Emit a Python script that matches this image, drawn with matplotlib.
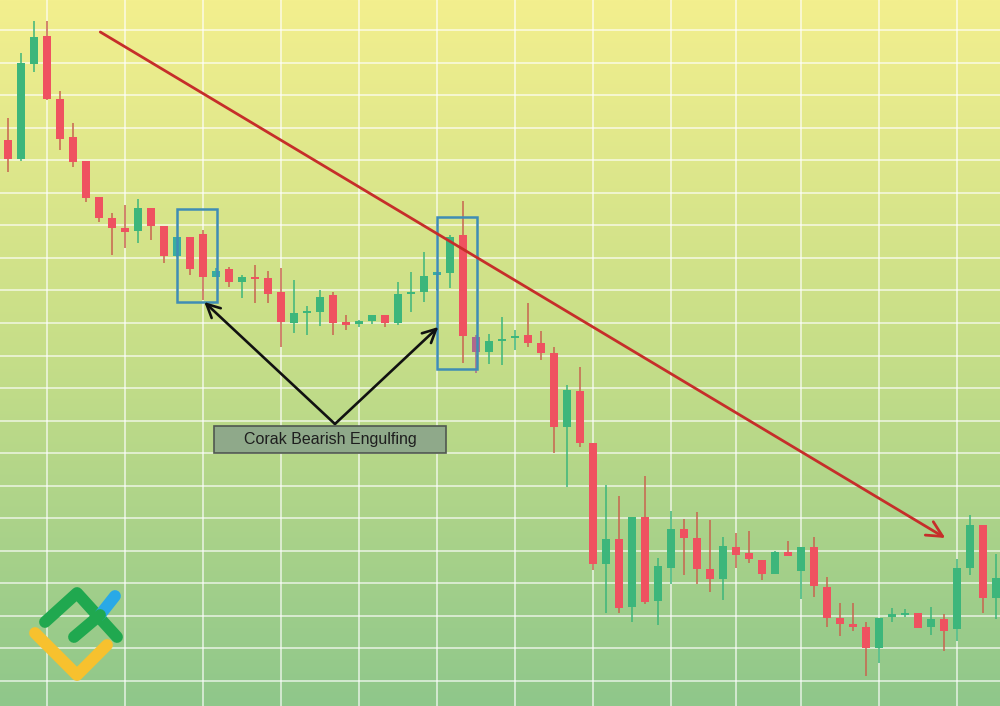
import matplotlib
matplotlib.use("Agg")
import matplotlib.pyplot as plt
import numpy as np
from matplotlib.patches import Rectangle
from matplotlib.colors import LinearSegmentedColormap

# candle prices in chart points (0 = bottom of the chart)
opens = [566, 547, 642, 670, 607, 569, 545, 509, 488, 478,
         475, 498, 480, 450, 469, 472, 429, 437, 424, 428,
         428, 414, 383, 393, 394, 411, 384, 382, 385, 391,
         383, 412, 414, 431, 433, 471, 369, 354, 365, 368,
         371, 363, 353, 279, 315, 263, 142, 167, 99, 189,
         105, 138, 177, 168, 137, 127, 159, 153, 146, 132,
         154, 135, 159, 119, 88, 82, 79, 58, 89, 91,
         93, 79, 87, 77, 138, 181, 108]
closes = [547, 643, 669, 607, 567, 544, 508, 488, 478, 474,
          498, 480, 450, 469, 437, 429, 435, 424, 429, 427,
          412, 384, 393, 394, 409, 383, 381, 385, 391, 383,
          412, 413, 430, 434, 469, 370, 354, 365, 367, 369,
          363, 353, 279, 316, 263, 142, 167, 98, 189, 104,
          140, 177, 168, 137, 127, 160, 151, 147, 132, 154,
          150, 159, 120, 88, 82, 79, 58, 88, 92, 93,
          78, 87, 75, 138, 181, 108, 128]
highs = [588, 653, 685, 685, 615, 583, 545, 509, 493, 501,
         507, 498, 480, 469, 469, 476, 438, 439, 431, 441,
         435, 438, 426, 400, 416, 414, 391, 386, 391, 391,
         424, 434, 454, 434, 471, 505, 371, 372, 389, 376,
         403, 375, 359, 321, 339, 263, 221, 210, 189, 230,
         148, 195, 187, 194, 186, 169, 173, 175, 146, 155,
         165, 159, 169, 129, 103, 103, 84, 88, 98, 97,
         93, 99, 92, 147, 191, 181, 152]
lows = [534, 545, 634, 606, 556, 539, 504, 484, 451, 458,
        463, 466, 443, 449, 431, 406, 429, 419, 408, 403,
        403, 359, 373, 371, 380, 371, 376, 379, 382, 379,
        381, 394, 404, 416, 418, 343, 333, 342, 341, 356,
        359, 346, 253, 219, 259, 136, 93, 93, 84, 102,
        81, 122, 131, 122, 114, 106, 138, 143, 126, 132,
        150, 107, 109, 79, 70, 75, 30, 43, 84, 89,
        78, 71, 55, 65, 131, 93, 87]

# candles drawn in another tint in the picture
teal_idx = [13, 16, 33]
mauve_idx = [36]

# pattern boxes: (first candle, last candle, low, high)
boxes = [(13, 16, 404, 497), (33, 36, 337, 489)]
trend_start = (7.1, 674)
trend_end = (72.1, 168)
label_text = "Corak Bearish Engulfing"
label_apex = (25.15, 282)
arrow_tips = [(15.1, 404), (33.1, 379)]
vgrid = [3, 9, 15, 21, 27, 33, 39, 45, 51, 56, 61, 67, 73]

RED = "#ef5260"
GREEN = "#3db67b"
TEAL = "#39ad9f"
MAUVE = "#b0688c"

fig = plt.figure(figsize=(10, 7.06), dpi=100)
ax = fig.add_axes([0, 0, 1, 1])
n = len(opens)
xlim = (-8 / 13, 992 / 13)
ax.set_xlim(*xlim)
ax.set_ylim(0, 706)
ax.axis("off")

# background gradient yellow -> green
cmap = LinearSegmentedColormap.from_list("bg", ["#8fc78b", "#c6de88", "#f3ef8e"])
grad = np.linspace(0, 1, 256).reshape(-1, 1)
ax.imshow(grad, cmap=cmap, origin="lower", aspect="auto",
          extent=[xlim[0], xlim[1], 0, 706], zorder=0)

# grid
for y in 25 + 32.55 * np.arange(21):
    ax.axhline(y, color="white", lw=1.2, alpha=0.7, zorder=1)
for x in vgrid:
    ax.axvline(x, color="white", lw=1.2, alpha=0.7, zorder=1)

# candles
x = np.arange(n)
o = np.array(opens)
c = np.array(closes)
colors = [GREEN if c[i] >= o[i] else RED for i in range(n)]
for i in teal_idx:
    colors[i] = TEAL
for i in mauve_idx:
    colors[i] = MAUVE
wick_colors = ["#c8644f" if col == RED else col for col in colors]
ax.vlines(x, lows, highs, colors=wick_colors, lw=1.1, zorder=2)
bottom = np.minimum(o, c)
height = np.maximum(np.abs(c - o), 2)
ax.bar(x, height, bottom=bottom, width=0.62, color=colors, zorder=3)

# pattern boxes
for a, b, lo, hi in boxes:
    ax.add_patch(Rectangle((a - 0.02, lo), b - a + 0.1, hi - lo, fill=False,
                           ec="#3f8db5", lw=1.8, zorder=4))

# trend line
ax.annotate("", xy=trend_end, xytext=trend_start,
            arrowprops=dict(arrowstyle="->", color="#c62e2a", lw=2.0,
                            mutation_scale=28, shrinkA=0, shrinkB=0), zorder=5)

# label and arrows
for tip in arrow_tips:
    ax.annotate("", xy=tip, xytext=label_apex,
                arrowprops=dict(arrowstyle="->", color="#111111", lw=1.9,
                                mutation_scale=24, shrinkA=0, shrinkB=0), zorder=5)
ax.add_patch(Rectangle((15.85, 253), 17.85, 27, fc="#8fa98a", ec="#505850",
                       lw=1.2, zorder=6))
ax.text(24.77, 266.5, label_text, ha="center", va="center", fontsize=11.5,
        family="Liberation Sans", color="#1e1e1e", zorder=7)

# logo (axes fractions)
def px(pts):
    return [p[0] / 1000 for p in pts], [1 - p[1] / 706 for p in pts]

for pts, col in [([(35, 633), (77, 675), (107, 645)], "#f7c12e"),
                 ([(45, 622), (77, 593), (117, 637)], "#20a84f"),
                 ([(100, 615), (115, 596)], "#29a9e6"),
                 ([(74, 637), (100, 615)], "#20a84f")]:
    xs, ys = px(pts)
    ax.plot(xs, ys, color=col, lw=8.5, solid_capstyle="round",
            solid_joinstyle="round", transform=ax.transAxes, zorder=8)

fig.savefig("out.png", dpi=100)
